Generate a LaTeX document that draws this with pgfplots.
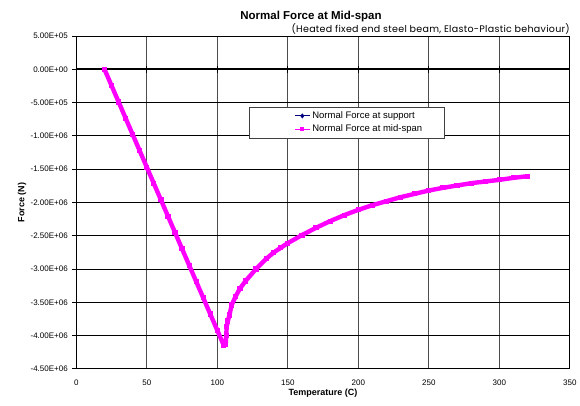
\documentclass[border=0pt]{standalone}
\usepackage{fontspec}
\setmainfont{Liberation Sans}
\newfontfamily\gothic[LetterSpace=3]{Poppins}
\usepackage{pgfplots}
\pgfplotsset{compat=1.18}

\definecolor{navyser}{RGB}{0,0,128}
\definecolor{magser}{RGB}{255,0,255}

% Normal force at mid-span (N) against temperature (C)
\pgfplotstableread{
T F
20 0
25 -245000
30 -490000
35 -735000
40 -980000
45 -1225000
50 -1470000
55 -1715000
60 -1960000
65 -2205000
70 -2450000
75 -2695000
80 -2940000
85 -3185000
90 -3430000
95 -3675000
100 -3920000
104.5 -4140000
105.5 -4130000
106 -4120000
106.3 -4000000
106.7 -3860000
107.5 -3780000
108.6 -3690000
110.2 -3540000
113 -3410000
116.1 -3290000
120 -3180000
127.4 -3000000
135 -2840000
140 -2750000
145 -2680000
150 -2610000
160 -2490000
170 -2380000
180 -2280000
190 -2190000
200 -2110000
210 -2040000
220 -1980000
230 -1920000
240 -1870000
250 -1820000
260 -1780000
270 -1745000
280 -1710000
290 -1685000
300 -1660000
310 -1630000
320 -1605000
}\midspan

% Normal force at support (N)
\pgfplotstableread{
T F
20 0
50 0
100 0
150 0
200 0
250 0
300 0
320 0
}\support

\begin{document}
\begin{tikzpicture}
\begin{axis}[
  at={(76.3pt,37pt)}, anchor=south west,
  scale only axis, width=493.5pt, height=333pt,
  xmin=0, xmax=350, ymin=-4500000, ymax=500000,
  /pgf/number format/assume math mode=true,
  font=\fontsize{8}{9.5}\selectfont,
  axis line style={black, line width=1pt},
  xtick={0,50,...,350},
  ytick={-4500000,-4000000,...,500000},
  yticklabels={-4.50E+06,-4.00E+06,-3.50E+06,-3.00E+06,-2.50E+06,-2.00E+06,-1.50E+06,-1.00E+06,-5.00E+05,0.00E+00,5.00E+05},
  scaled y ticks=false,
  ytick pos=left, xtick pos=bottom,
  tick align=outside,
  major tick length=4pt,
  xtick style={draw=none},
  ytick style={black, line width=1pt},
  xticklabel style={yshift=-3pt},
  yticklabel style={xshift=-1pt},
  grid=major,
  x grid style={black!70, line width=1pt},
  y grid style={black, line width=1pt},
  xlabel={Temperature (C)},
  ylabel={Force (N)},
  label style={font=\bfseries\fontsize{9}{10.5}\selectfont},
  xlabel style={at={(axis description cs:0.5,-0.072)}, anchor=center},
  ylabel style={at={(axis description cs:-0.11,0.5)}, anchor=center},
  legend style={
    at={(0.35,0.787)}, anchor=north west,
    font=\fontsize{9.5}{11}\selectfont,
    draw=black!75, line width=0.6pt,
    inner xsep=20pt, inner ysep=2.5pt, row sep=1pt,
  },
  legend cell align=left,
  legend image code/.code={
    \path (-25pt,0pt);
    \draw[mark repeat=2, mark phase=2, #1] plot coordinates {(0pt,0pt) (7.5pt,0pt) (15pt,0pt)};
  },
]
\addplot[navyser, line width=1pt, mark=none,
  legend image post style={mark=diamond*, mark size=1.8pt, mark options={fill=navyser}}]
  table[x=T, y=F] {\support};
\addlegendentry{Normal Force at support}

% horizontal axis crossing at zero, with its cross ticks
\draw[black, line width=2.2pt] (axis cs:0,0) -- (axis cs:350,0);
\pgfplotsinvokeforeach{0,50,...,350}{
  \draw[black, line width=1.3pt] (axis cs:#1,0) ++(0pt,-3.5pt) -- ++(0pt,7pt);
}

\addplot[magser, line width=4.4pt, line join=round, mark=square*, mark size=2.1pt,
  mark options={fill=magser, line width=0pt},
  legend image post style={line width=1pt, mark size=1.6pt}] table[x=T, y=F] {\midspan};
\addlegendentry{Normal Force at mid-span}
\end{axis}

\node[font=\bfseries\fontsize{11.5}{13}\selectfont, anchor=base] at (311pt,386pt) {Normal Force at Mid-span};
\node[font=\gothic\fontsize{9.5}{11}\selectfont, anchor=base east, inner sep=0pt] at (570pt,373.5pt) {(Heated fixed end steel beam, Elasto-Plastic behaviour)};

\pgfresetboundingbox
\path[use as bounding box] (0pt,0pt) rectangle (580pt,406pt);
\end{tikzpicture}
\end{document}
